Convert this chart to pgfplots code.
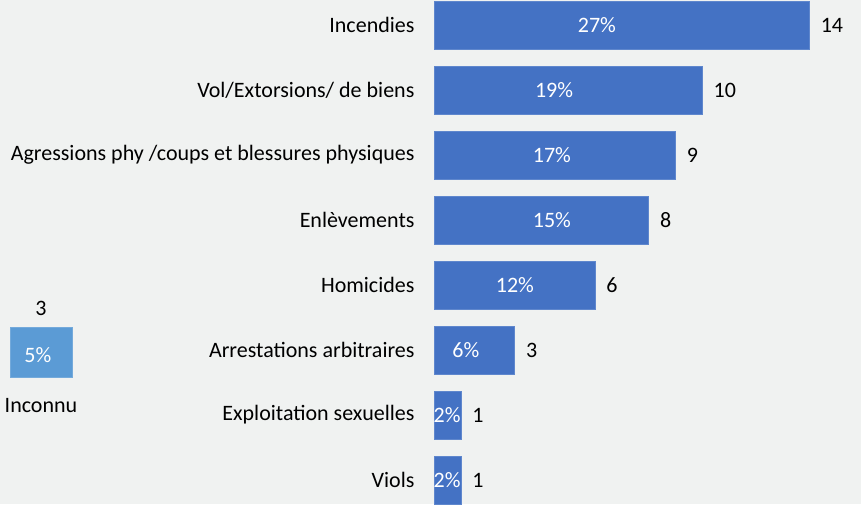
\documentclass[border=0pt]{standalone}
\usepackage{pgfplots}
\pgfplotsset{compat=1.18}
\usepackage{fontspec}
\setmainfont{Carlito}
\definecolor{bg}{RGB}{240,242,241}
\definecolor{barblue}{RGB}{68,114,196}
\definecolor{baredge}{RGB}{95,135,205}
\definecolor{lightblue}{RGB}{91,155,213}
\newcommand{\lblfont}{\fontsize{22}{26}\selectfont}

\begin{document}
\begin{tikzpicture}
\path[use as bounding box, fill=bg] (0,0) rectangle (861pt,504pt);

% main horizontal bars
\begin{axis}[
    at={(434pt,-8.5pt)}, anchor=south west,
    x=26.8pt, y=65pt,
    xmin=0, xmax=14, ymin=-0.5, ymax=7.5,
    axis line style={draw=none},
    xtick=\empty,
    ytick={0,...,7},
    yticklabels={Viols, Exploitation sexuelles, Arrestations arbitraires, Homicides,
        Enlèvements, Agressions phy /coups et blessures physiques,
        Vol/Extorsions/ de biens, Incendies},
    major tick length=0pt,
    yticklabel style={font=\lblfont, text=black, xshift=-16pt},
    /pgf/number format/assume math mode=true,
    clip=false,
]
\addplot[xbar, bar width=48pt, fill=barblue, draw=baredge, line width=0.6pt,
    nodes near coords, nodes near coords style={font=\lblfont, text=black, xshift=8pt}]
    coordinates {(1,0) (1,1) (3,2) (6,3) (8,4) (9,5) (10,6) (14,7)};
\addplot[only marks, mark=none, point meta=explicit symbolic,
    nodes near coords, nodes near coords style={font=\lblfont, text=white, anchor=center}]
    coordinates {(0.49,0)[2\%] (0.49,1)[2\%] (1.19,2)[6\%] (3.02,3)[12\%]
        (4.40,4)[15\%] (4.40,5)[17\%] (4.48,6)[19\%] (6.08,7)[27\%]};
\end{axis}

% Inconnu
\begin{axis}[
    at={(10pt,127pt)}, anchor=south west,
    x=62pt, y=16.667pt,
    xmin=-0.5, xmax=0.5, ymin=0, ymax=3,
    axis line style={draw=none},
    ytick=\empty,
    xtick={0}, xticklabels={Inconnu},
    major tick length=0pt,
    xticklabel style={font=\lblfont, text=black, yshift=-18pt},
    /pgf/number format/assume math mode=true,
    clip=false,
]
\addplot[ybar, bar width=62pt, fill=lightblue, draw=lightblue!85!white, line width=0.6pt,
    nodes near coords, nodes near coords style={font=\lblfont, text=black, yshift=8pt}]
    coordinates {(0,3)};
\addplot[only marks, mark=none, point meta=explicit symbolic,
    nodes near coords, nodes near coords style={font=\lblfont, text=white, anchor=center}]
    coordinates {(-0.05,1.32)[5\%]};
\end{axis}
\end{tikzpicture}
\end{document}
